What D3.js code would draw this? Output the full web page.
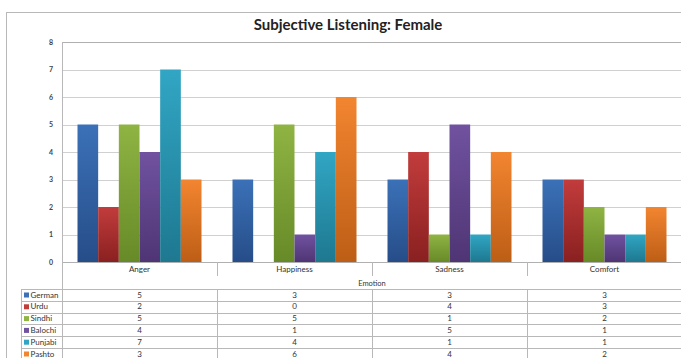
<!DOCTYPE html>
<meta charset="utf-8">
<style>
    body { margin: 0; background: #fff; }
    svg { display: block; }
    .rule { stroke: #b8b8b8; shape-rendering: crispEdges; fill: none; }
    text { font-family: Lato, "Open Sans", sans-serif; fill: #333; }
</style>
<body>
<script src="https://cdnjs.cloudflare.com/ajax/libs/d3/7.8.5/d3.min.js"></script>
<script>
    var categories = ["Anger", "Happiness", "Sadness", "Comfort"];
    var seriesNames = ["German", "Urdu", "Sindhi", "Balochi", "Punjabi", "Pashto"];
    var german = [5, 3, 3, 3];
    var urdu = [2, 0, 4, 3];
    var sindhi = [5, 5, 1, 2];
    var balochi = [4, 1, 5, 1];
    var punjabi = [7, 4, 1, 1];
    var pashto = [3, 6, 4, 2];
    var yTicks = [0, 1, 2, 3, 4, 5, 6, 7, 8];

    var seriesValues = [german, urdu, sindhi, balochi, punjabi, pashto];
    var colors = [
        ["#3b71b8", "#264d88"],
        ["#c23c3c", "#8a2020"],
        ["#8fb443", "#678a28"],
        ["#7052a0", "#4f3574"],
        ["#31a6c4", "#1e7890"],
        ["#f28530", "#bd5e16"]
    ];

    var W = 681, H = 358;
    var plotLeft = 62, plotRight = 682, plotTop = 42, plotBottom = 262;
    var rowTop = 289, rowH = 11.8, legendLeft = 21;

    var svg = d3.select("body").append("svg").attr("width", W).attr("height", H);

    var defs = svg.append("defs");
    colors.forEach(function (c, i) {
        var g = defs.append("linearGradient").attr("id", "g" + i)
            .attr("x1", 0).attr("y1", 0).attr("x2", 0).attr("y2", 1);
        g.append("stop").attr("offset", "0%").attr("stop-color", c[0]);
        g.append("stop").attr("offset", "100%").attr("stop-color", c[1]);
    });

    var x0 = d3.scaleBand().domain(categories).range([plotLeft, plotRight]);
    var x1 = d3.scaleBand().domain(seriesNames).range([0, x0.bandwidth()]).paddingOuter(0.75);
    var y = d3.scaleLinear().domain([0, 8]).range([plotBottom, plotTop]);

    // outer chart frame
    svg.append("path").attr("class", "rule")
        .attr("d", "M6.5," + H + "V12.5H" + W);

    svg.append("text").attr("x", 348).attr("y", 30)
        .attr("text-anchor", "middle")
        .style("font-size", "15px").style("font-weight", "bold").style("fill", "#222")
        .text("Subjective Listening: Female");

    // gridlines
    svg.append("g")
        .selectAll("line").data(yTicks).enter().append("line")
        .attr("x1", plotLeft).attr("x2", plotRight)
        .attr("y1", function (d) { return Math.round(y(d)) + 0.5; })
        .attr("y2", function (d) { return Math.round(y(d)) + 0.5; })
        .style("shape-rendering", "crispEdges")
        .style("stroke", function (d) { return d === 0 || d === 8 ? "#b0b0b0" : "#d0d0d0"; });

    // y labels
    svg.append("g").selectAll("text").data(yTicks).enter().append("text")
        .attr("x", 51).attr("y", function (d) { return y(d) + 2.5; })
        .attr("text-anchor", "middle")
        .style("font-size", "7px").style("font-weight", "bold").style("fill", "#444")
        .text(function (d) { return d; });

    // bars
    var groups = svg.append("g").selectAll("g").data(categories).enter().append("g")
        .attr("transform", function (d) { return "translate(" + x0(d) + ",0)"; });
    groups.selectAll("rect")
        .data(function (c, ci) {
            return seriesNames.map(function (s, si) { return { s: s, i: si, v: seriesValues[si][ci] }; });
        })
        .enter().append("rect")
        .attr("x", function (d) { return x1(d.s); })
        .attr("width", x1.bandwidth())
        .attr("y", function (d) { return y(d.v); })
        .attr("height", function (d) { return y(0) - y(d.v); })
        .attr("fill", function (d) { return "url(#g" + d.i + ")"; });

    // axis left line through table
    svg.append("line").attr("class", "rule")
        .attr("x1", plotLeft + 0.5).attr("x2", plotLeft + 0.5).attr("y1", plotTop).attr("y2", H);

    // category labels and separators
    svg.append("g").selectAll("text").data(categories).enter().append("text")
        .attr("x", function (d) { return x0(d) + x0.bandwidth() / 2; })
        .attr("y", 272)
        .attr("text-anchor", "middle").style("font-size", "8px")
        .text(function (d) { return d; });
    svg.append("g").selectAll("line").data(categories.slice(1)).enter().append("line")
        .attr("class", "rule")
        .attr("x1", function (d) { return Math.round(x0(d)) + 0.5; })
        .attr("x2", function (d) { return Math.round(x0(d)) + 0.5; })
        .attr("y1", plotBottom).attr("y2", 276);

    svg.append("text").attr("x", (plotLeft + plotRight) / 2).attr("y", 286)
        .attr("text-anchor", "middle").style("font-size", "7.5px").style("fill", "#333")
        .text("Emotion");

    // data table
    var table = svg.append("g");
    d3.range(seriesNames.length + 1).forEach(function (r) {
        var yy = Math.round(rowTop + r * rowH) + 0.5;
        table.append("line").attr("class", "rule")
            .attr("x1", legendLeft).attr("x2", plotRight).attr("y1", yy).attr("y2", yy);
    });
    table.append("line").attr("class", "rule")
        .attr("x1", legendLeft + 0.5).attr("x2", legendLeft + 0.5).attr("y1", rowTop).attr("y2", H);
    table.selectAll(".sep").data(categories.slice(1)).enter().append("line")
        .attr("class", "rule")
        .attr("x1", function (d) { return Math.round(x0(d)) + 0.5; })
        .attr("x2", function (d) { return Math.round(x0(d)) + 0.5; })
        .attr("y1", rowTop).attr("y2", H);

    var rows = table.selectAll(".row").data(seriesNames).enter().append("g")
        .attr("transform", function (d, i) { return "translate(0," + (rowTop + i * rowH) + ")"; });
    rows.append("rect").attr("x", 24).attr("y", 3.5).attr("width", 5).attr("height", 5)
        .attr("fill", function (d, i) { return colors[i][0]; });
    rows.append("text").attr("x", 30.5).attr("y", 8.5)
        .style("font-size", "8px").text(function (d) { return d; });
    rows.selectAll(".v").data(function (d, i) { return seriesValues[i]; }).enter().append("text")
        .attr("x", function (d, ci) { return x0(categories[ci]) + x0.bandwidth() / 2; })
        .attr("y", 8.5).attr("text-anchor", "middle").style("font-size", "8px")
        .text(function (d) { return d; });
</script>
</body>
